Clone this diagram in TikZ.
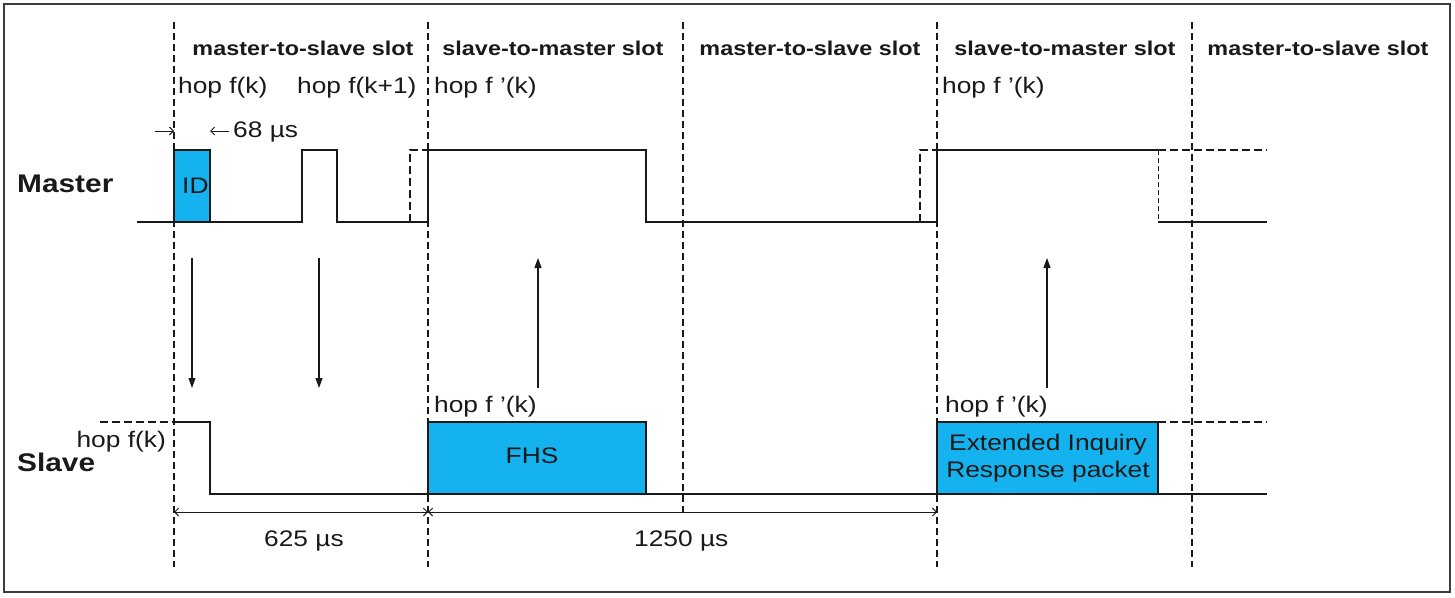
\documentclass[tikz,border=0pt]{standalone}
\usepackage{fontspec}
\setmainfont{Liberation Sans}[FakeStretch=1.17]
\usetikzlibrary{arrows.meta}
\definecolor{pktblue}{RGB}{20,178,238}
\definecolor{ink}{RGB}{25,25,25}
\begin{document}
\begin{tikzpicture}[x=1pt,y=-1pt,
  slotline/.style={draw=ink,line width=1.8pt,dash pattern=on 7pt off 4pt},
  wave/.style={draw=ink,line width=1.2pt},
  wavedash/.style={draw=ink,line width=2pt,dash pattern=on 8pt off 4pt},
  thindash/.style={draw=ink,line width=0.9pt,dash pattern=on 5pt off 3pt},
  dimtip/.style={draw=ink,line width=0.9pt,-{Straight Barb[length=4pt,width=8pt]}},
  dimboth/.style={draw=ink,line width=0.9pt,{Straight Barb[length=4pt,width=8pt]}-{Straight Barb[length=4pt,width=8pt]}},
  sig/.style={draw=ink,line width=1.1pt,-{Triangle[length=10pt,width=7pt]}},
  lbl/.style={font=\fontsize{22.5}{27}\selectfont,inner sep=0pt,text=ink},
  slotlbl/.style={font=\bfseries\fontsize{20}{24}\selectfont,inner sep=0pt,text=ink},
  role/.style={font=\bfseries\fontsize{25.5}{30}\selectfont,inner sep=0pt,text=ink},
  pkt/.style={draw=ink,fill=pktblue,line width=1.1pt}]
\useasboundingbox (0,0) rectangle (1455,597);
% frame
\draw[draw=ink!85,line width=2pt] (4,4) rectangle (1450,592);

% slot boundaries
\foreach \x/\yb in {174/567,428/567,683/513,937/567,1192/567}
  \draw[slotline] (\x,22) -- (\x,\yb);

% slot labels
\node[slotlbl,anchor=base] (s1) at (303,55) {master-to-slave slot};
\node[slotlbl,anchor=base] (s2) at (553,55) {slave-to-master slot};
\node[slotlbl,anchor=base] (s3) at (810,55) {master-to-slave slot};
\node[slotlbl,anchor=base] (s4) at (1065,55) {slave-to-master slot};
\node[slotlbl,anchor=base] (s5) at (1318,55) {master-to-slave slot};

% hop labels (top)
\node[lbl,anchor=base west] (h1) at (178,93) {hop f(k)};
\node[lbl,anchor=base west] (h2) at (297,93) {hop f(k+1)};
\node[lbl,anchor=base west] (h3) at (434,93) {hop f ’(k)};
\node[lbl,anchor=base west] (h4) at (942,93) {hop f ’(k)};

% 68 us
\node[lbl,anchor=base west] (t68) at (233,137) {68 µs};
\coordinate (d68a) at (155,131);
\coordinate (d68b) at (174,131);
\coordinate (d68c) at (229,131);
\coordinate (d68d) at (210,131);
\draw[dimtip] (d68a) -- (d68b);
\draw[dimtip] (d68c) -- (d68d);

% role labels
\node[role,anchor=base west] (master) at (17,192) {Master};
\node[role,anchor=base west] (slave) at (17,471) {Slave};

% master waveform
\draw[wave] (137,222) -- (174,222);
\draw[pkt] (174,150) rectangle (210,222);
\node[lbl,anchor=base west] (id) at (182,193) {ID};
\draw[wave] (210,222) -- (302,222) -- (302,150) -- (337,150) -- (337,222) -- (428,222)
  -- (428,150) -- (646,150) -- (646,222) -- (937,222) -- (937,150) -- (1158,150);
\draw[wavedash] (410,222) -- (410,150) -- (428,150);
\draw[wavedash] (920,222) -- (920,150) -- (937,150);
\draw[thindash] (1158,150) -- (1158,222);
\draw[wave] (1158,222) -- (1267,222);
\draw[wavedash] (1158,150) -- (1267,150);

% slave waveform
\draw[wavedash] (100,422) -- (174,422);
\draw[wave] (174,422) -- (210,422) -- (210,494) -- (1267,494);
\draw[pkt] (428,422) rectangle (646,494);
\draw[pkt] (937,422) rectangle (1158,494);
\draw[wavedash] (1158,422) -- (1267,422);
\node[lbl,anchor=center] (fhs) at (532,456) {FHS};
\node[lbl,anchor=center,align=center] (eir) at (1048,458) {Extended Inquiry\\Response packet};
\node[lbl,anchor=base east] (hs) at (166,447) {hop f(k)};
\node[lbl,anchor=base west] (h5) at (434,412) {hop f ’(k)};
\node[lbl,anchor=base west] (h6) at (945,412) {hop f ’(k)};

% signal arrows
\coordinate (a1t) at (192,258); \coordinate (a1b) at (192,388);
\coordinate (a2t) at (319,258); \coordinate (a2b) at (319,388);
\coordinate (a3t) at (538,258); \coordinate (a3b) at (538,388);
\coordinate (a4t) at (1047,258); \coordinate (a4b) at (1047,388);
\draw[sig] (a1t) -- (a1b);
\draw[sig] (a2t) -- (a2b);
\draw[sig] (a3b) -- (a3t);
\draw[sig] (a4b) -- (a4t);

% period dimensions
\coordinate (p0) at (174,512);
\coordinate (p1) at (428,512);
\coordinate (p2) at (937,512);
\draw[dimboth] (p0) -- (p1);
\draw[dimboth] (p1) -- (p2);
\node[lbl,anchor=base west] (t625) at (264,546) {625 µs};
\node[lbl,anchor=base west] (t1250) at (634,546) {1250 µs};
\end{tikzpicture}
\end{document}
